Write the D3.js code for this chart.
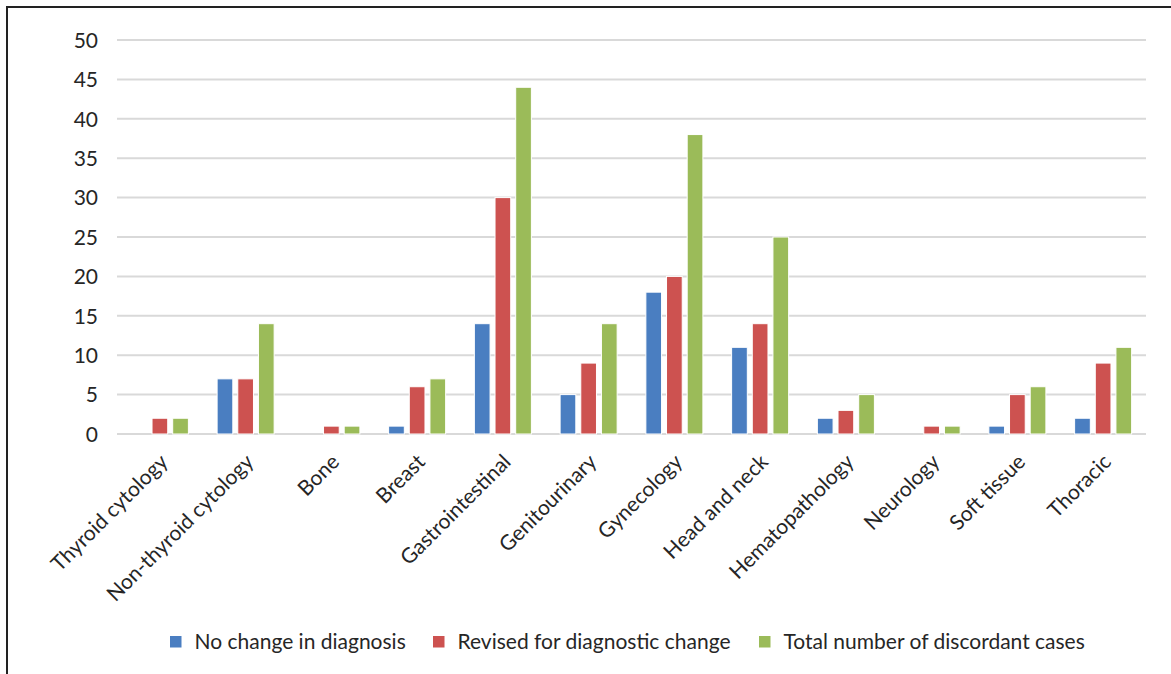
<!DOCTYPE html>
<html>
<head>
<meta charset="utf-8">
<script src="https://cdn.jsdelivr.net/npm/d3@7"></script>
<style>
  html, body { margin: 0; padding: 0; background: #fff; }
  svg { display: block; font-family: Lato, "Open Sans", sans-serif; }
</style>
</head>
<body>
<svg id="chart" width="1171" height="674"></svg>
<script>
// Discordant cases by subspecialty
const categories = ["Thyroid cytology", "Non-thyroid cytology", "Bone", "Breast", "Gastrointestinal",
  "Genitourinary", "Gynecology", "Head and neck", "Hematopathology", "Neurology", "Soft tissue", "Thoracic"];
const seriesNames = ["No change in diagnosis", "Revised for diagnostic change", "Total number of discordant cases"];
const noChange = [0, 7, 0, 1, 14, 5, 18, 11, 2, 0, 1, 2];
const revised = [2, 7, 1, 6, 30, 9, 20, 14, 3, 1, 5, 9];
const total = [2, 14, 1, 7, 44, 14, 38, 25, 5, 1, 6, 11];
const yTicks = [0, 5, 10, 15, 20, 25, 30, 35, 40, 45, 50];
const colors = ["#4a7ec1", "#cd5250", "#9bbb59"];

const seriesValues = [noChange, revised, total];
const textColor = "#262626";
const fontSize = 21;

const svg = d3.select("#chart");

// outer frame
svg.append("rect")
  .attr("x", 7).attr("y", 7)
  .attr("width", 1180).attr("height", 700)
  .attr("fill", "none").attr("stroke", "#222").attr("stroke-width", 2);

const plot = { left: 117, right: 1146, top: 40, bottom: 434 };

const x = d3.scaleBand().domain(categories).range([plot.left, plot.right]).paddingInner(0.335).paddingOuter(0.1675);
const xs = d3.scaleBand().domain(d3.range(3)).range([0, x.bandwidth()]).paddingInner(0.24);
const y = d3.scaleLinear().domain([0, 50]).range([plot.bottom, plot.top]);

// gridlines
svg.append("g")
  .selectAll("line").data(yTicks).join("line")
  .attr("x1", plot.left).attr("x2", plot.right)
  .attr("y1", d => y(d)).attr("y2", d => y(d))
  .attr("stroke", "#d9d9d9").attr("stroke-width", 2);

// y axis labels
const yAxis = d3.axisLeft(y).tickValues(yTicks).tickSize(0).tickPadding(0);
const yg = svg.append("g").attr("transform", `translate(${plot.left - 19},0)`).call(yAxis);
yg.select(".domain").remove();
yg.selectAll("text")
  .attr("font-size", fontSize).attr("fill", textColor)
  .attr("font-family", "Lato, sans-serif")
  .attr("dy", "0.35em");

// bars
const groups = svg.append("g").selectAll("g").data(categories).join("g")
  .attr("transform", d => `translate(${x(d)},0)`);
groups.selectAll("rect")
  .data((d, i) => seriesValues.map((s, k) => ({ k, v: s[i] })))
  .join("rect")
  .attr("x", d => xs(d.k))
  .attr("width", xs.bandwidth())
  .attr("y", d => y(d.v))
  .attr("height", d => y(0) - y(d.v))
  .attr("fill", d => colors[d.k])
  .attr("stroke", "#fff").attr("stroke-width", 1)
  .attr("display", d => d.v > 0 ? null : "none");

// category labels, rotated
svg.append("g").selectAll("text").data(categories).join("text")
  .attr("transform", d => `translate(${x(d) + x.bandwidth() / 2 + 4},458) rotate(-45)`)
  .attr("text-anchor", "end")
  .attr("dy", "0.35em")
  .attr("font-size", fontSize)
  .attr("fill", textColor)
  .text(d => d);

// legend
const legendItems = [
  { name: seriesNames[0], color: colors[0], x: 170 },
  { name: seriesNames[1], color: colors[1], x: 433 },
  { name: seriesNames[2], color: colors[2], x: 759 }
];
const lg = svg.append("g").selectAll("g").data(legendItems).join("g")
  .attr("transform", d => `translate(${d.x},636)`);
lg.append("rect").attr("width", 11.5).attr("height", 11.5).attr("fill", d => d.color);
lg.append("text")
  .attr("x", 24.5).attr("y", 5.5).attr("dy", "0.35em")
  .attr("font-size", fontSize).attr("fill", textColor)
  .text(d => d.name);
</script>
</body>
</html>
